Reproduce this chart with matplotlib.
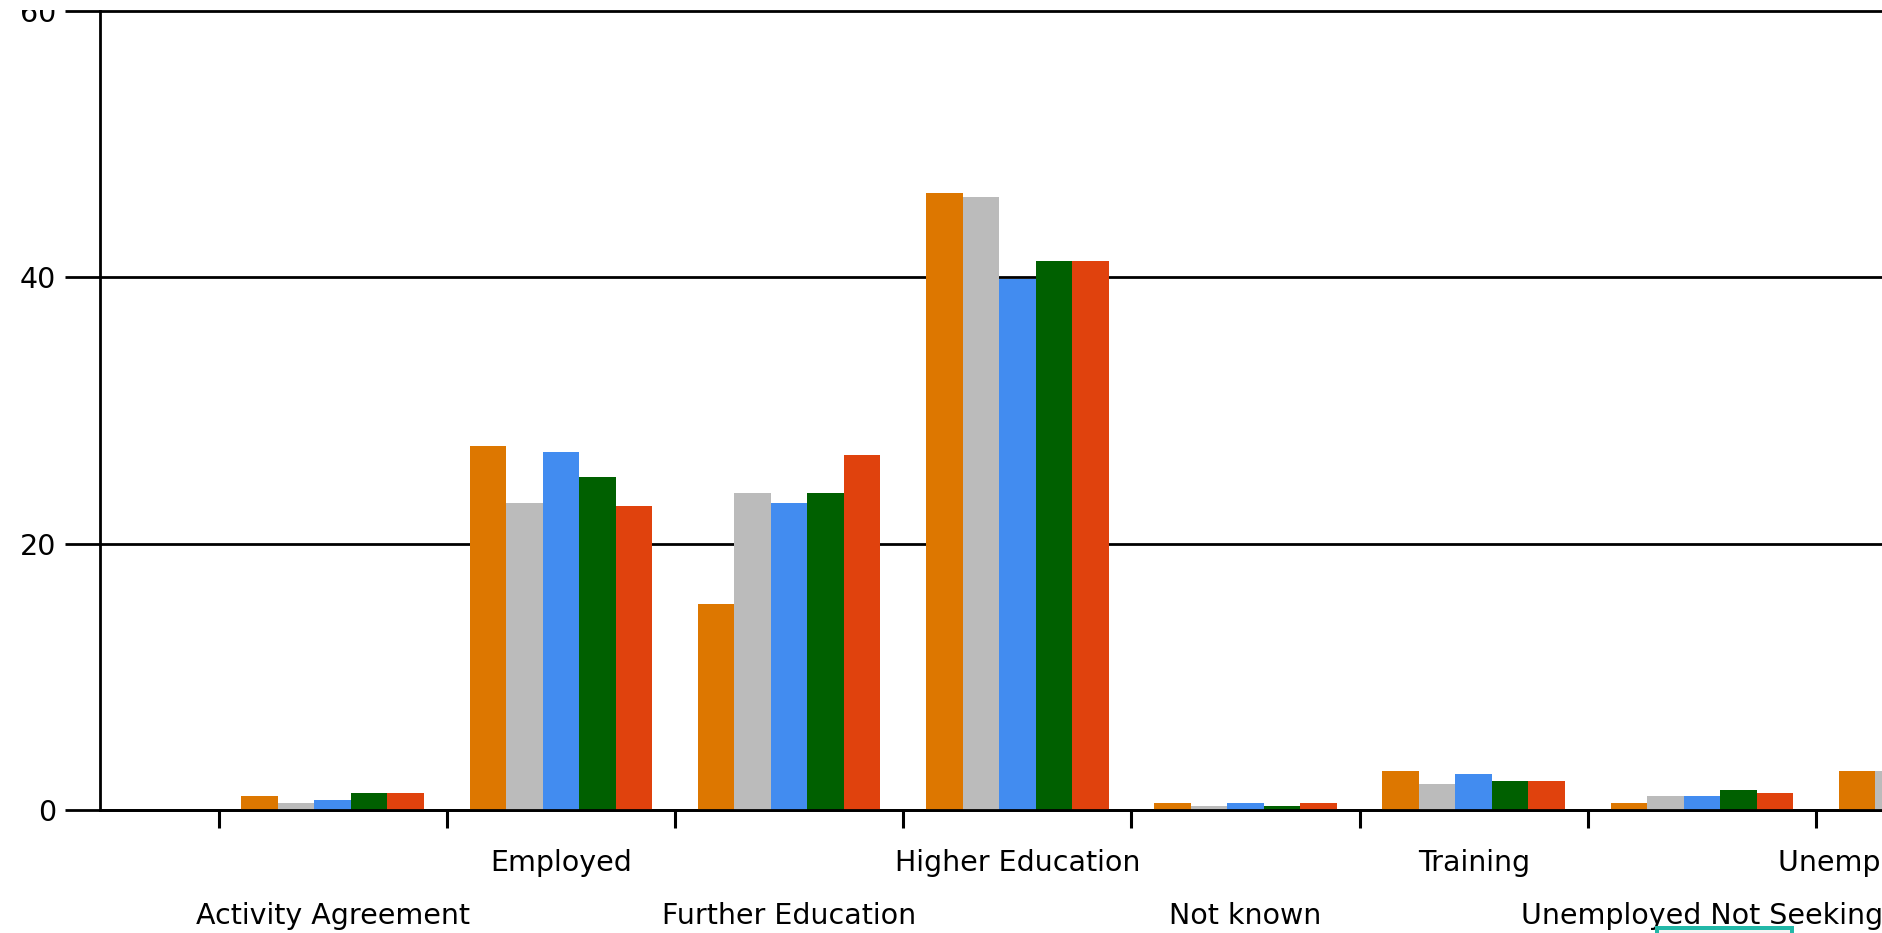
import matplotlib
matplotlib.use("Agg")
import matplotlib.pyplot as plt
from matplotlib.patches import Rectangle
import numpy as np

categories = ["Activity Agreement", "Employed", "Further Education", "Higher Education",
              "Not known", "Training", "Unemployed Not Seeking", "Unemployed Seeking"]

series_1 = [1.05, 27.3, 15.5, 46.3, 0.53, 2.93, 0.53, 2.93]
series_2 = [0.53, 23.05, 23.8, 46.0, 0.3, 1.95, 1.05, 2.93]
series_3 = [0.75, 26.9, 23.05, 39.9, 0.53, 2.7, 1.05, 2.7]
series_4 = [1.28, 25.0, 23.8, 41.2, 0.3, 2.18, 1.5, 2.2]
series_5 = [1.28, 22.8, 26.65, 41.2, 0.53, 2.18, 1.28, 2.2]

y_ticks = [0, 20, 40, 60]

colors = ["#DD7700", "#BBBBBB", "#428CF0", "#006000", "#E0420D"]

W, H = 1883, 933
fig = plt.figure(figsize=(W / 100, H / 100), dpi=100)
ax = fig.add_axes([100 / W, 1 - 810 / H, 1 - 100 / W, (810 - 11) / H])

all_series = [series_1, series_2, series_3, series_4, series_5]
n = len(all_series)
bw = 0.8 / n
x = np.arange(len(categories))
for k, s in enumerate(all_series):
    ax.bar(x - 0.4 + bw * (k + 0.5), s, width=bw, color=colors[k], linewidth=0, zorder=2)

for sp in ["top", "right"]:
    ax.spines[sp].set_visible(False)
for sp in ["left", "bottom"]:
    ax.spines[sp].set_linewidth(2)
    ax.spines[sp].set_color("black")
    ax.spines[sp].set_zorder(3)

ax.set_yticks(y_ticks)
ax.set_yticklabels([str(v) for v in y_ticks])
ax.tick_params(axis="y", length=25, width=2, pad=6.5, labelsize=20.5, colors="black")
ax.yaxis.grid(True, color="black", linewidth=2, zorder=1)
for gl in ax.get_ygridlines():
    gl.set_clip_on(False)

ax.set_xticks(np.arange(-0.5, len(categories) + 0.5, 1.0))
ax.set_xticklabels([])
ax.tick_params(axis="x", length=13, width=2.2, colors="black")

# limits after ticks so the ticks do not widen the view
ax.set_xlim((100 - 332.7) / 228.2, (1883 - 332.7) / 228.2)
ax.set_ylim(0, 60)

for i, name in enumerate(categories):
    off = -43.9 if i % 2 == 1 else -82.1
    ax.annotate(name, xy=(i, 0), xycoords=("data", "axes fraction"),
                xytext=(0, off), textcoords="offset points",
                ha="center", va="baseline", fontsize=20.5, color="black",
                annotation_clip=False, family="DejaVu Sans")

# top of the "60" label is cut off in the reference
fig.patches.append(Rectangle((0, 1 - 10 / H), 62 / W, 10 / H,
                             transform=fig.transFigure, facecolor="white",
                             edgecolor="none", zorder=5))

# partial teal box at the bottom edge
fig.patches.append(Rectangle((1655 / W, 0), (1794 - 1655) / W, 7.5 / H,
                             transform=fig.transFigure, facecolor="#22B8A8",
                             edgecolor="none", zorder=5))
fig.patches.append(Rectangle((1659 / W, 0), (1790 - 1659) / W, 3.5 / H,
                             transform=fig.transFigure, facecolor="#F4F4F4",
                             edgecolor="none", zorder=6))

fig.savefig("out.png", dpi=100)
